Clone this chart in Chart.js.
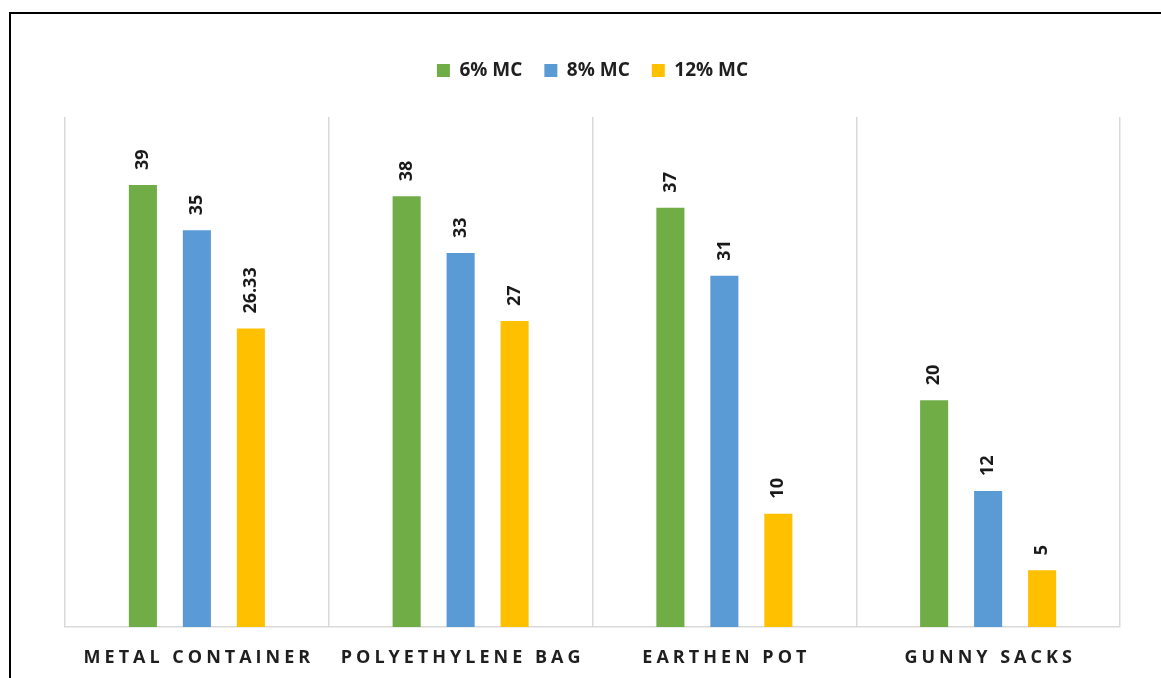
<!DOCTYPE html>
<html>
<head>
<meta charset="utf-8">
<script src="https://cdn.jsdelivr.net/npm/chart.js@4"></script>
<style>
  html, body { margin: 0; padding: 0; background: #fff; overflow: hidden; }
  #wrap { position: relative; width: 1161px; height: 678px; }
  #frame {
    position: absolute; left: 9px; top: 12px; width: 1200px; height: 700px;
    border-left: 2px solid #000; border-top: 2px solid #000; pointer-events: none;
  }
  canvas { position: absolute; left: 0; top: 0; }
</style>
</head>
<body>
<div id="wrap">
  <canvas id="chart" width="1161" height="678"></canvas>
  <div id="frame"></div>
</div>
<script>
const categories = ['METAL CONTAINER', 'POLYETHYLENE BAG', 'EARTHEN POT', 'GUNNY SACKS'];
const seriesNames = ['6% MC', '8% MC', '12% MC'];
const mc6 = [39, 38, 37, 20];
const mc8 = [35, 33, 31, 12];
const mc12 = [26.33, 27, 10, 5];
const colors = ['#70ad47', '#5b9bd5', '#ffc000'];

const FONT = "'Open Sans', 'DejaVu Sans', sans-serif";

// value labels, rotated, sitting above each bar
const barLabels = {
  id: 'barLabels',
  afterDatasetsDraw(chart) {
    const ctx = chart.ctx;
    ctx.save();
    ctx.font = `bold 18px ${FONT}`;
    ctx.fillStyle = '#1a1a1a';
    ctx.textAlign = 'left';
    ctx.textBaseline = 'middle';
    chart.data.datasets.forEach((ds, di) => {
      chart.getDatasetMeta(di).data.forEach((bar, i) => {
        ctx.save();
        ctx.translate(bar.x, bar.y - 15);
        ctx.rotate(-Math.PI / 2);
        ctx.fillText(String(ds.data[i]), 0, 0);
        ctx.restore();
      });
    });
    ctx.restore();
  }
};

// category labels with wide letter spacing
const catLabels = {
  id: 'catLabels',
  afterDraw(chart) {
    const ctx = chart.ctx;
    const xs = chart.scales.x;
    ctx.save();
    ctx.font = `bold 18px ${FONT}`;
    ctx.fillStyle = '#1f1f1f';
    ctx.letterSpacing = '4px';
    ctx.textAlign = 'center';
    ctx.textBaseline = 'middle';
    categories.forEach((c, i) => {
      ctx.fillText(c, xs.getPixelForValue(i) + 2, chart.chartArea.bottom + 31);
    });
    ctx.restore();
  }
};

// extra room between the legend and the plot
const legendGap = {
  id: 'legendGap',
  beforeInit(chart) {
    const lg = chart.legend;
    if (!lg) return;
    const fit = lg.fit;
    lg.fit = function () {
      fit.call(this);
      this.height += 27;
    };
  }
};

new Chart(document.getElementById('chart'), {
  type: 'bar',
  data: {
    labels: categories,
    datasets: [
      { label: seriesNames[0], data: mc6, backgroundColor: colors[0] },
      { label: seriesNames[1], data: mc8, backgroundColor: colors[1] },
      { label: seriesNames[2], data: mc12, backgroundColor: colors[2] }
    ]
  },
  options: {
    responsive: false,
    animation: false,
    datasets: {
      bar: { categoryPercentage: 0.614, barPercentage: 0.52 }
    },
    layout: { padding: { left: 65, right: 41, top: 39, bottom: 51 } },
    scales: {
      x: {
        offset: true,
        ticks: { display: false },
        grid: { display: true, color: '#d9d9d9', lineWidth: 1.5, drawTicks: false, offset: true },
        border: { display: true, color: '#d9d9d9', width: 1.5 }
      },
      y: {
        display: false,
        min: 0,
        max: 45
      }
    },
    plugins: {
      legend: {
        position: 'top',
        labels: {
          boxWidth: 13,
          boxHeight: 13,
          padding: 22,
          color: '#1f1f1f',
          font: { family: FONT, size: 19, weight: 'bold' }
        }
      },
      tooltip: { enabled: false }
    }
  },
  plugins: [barLabels, catLabels, legendGap]
});
</script>
</body>
</html>
